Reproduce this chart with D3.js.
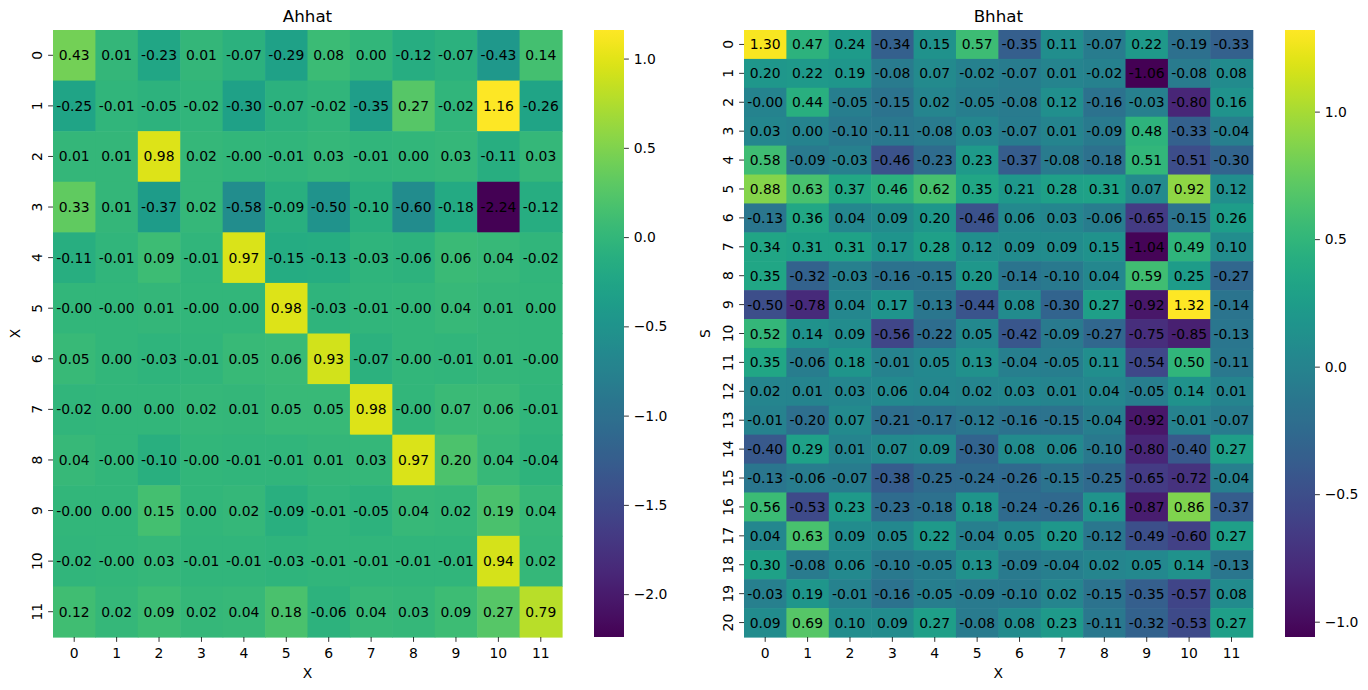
<!DOCTYPE html>
<html>
<head>
<meta charset="utf-8">
<script src="https://cdn.jsdelivr.net/npm/d3@7"></script>
<style>
  body { margin: 0; background: #fff; }
  svg { font-family: "DejaVu Sans", sans-serif; }
</style>
</head>
<body>
<svg id="chart" width="1368" height="690"></svg>
<script>
// ---- Data ----
const ahhatRows = ["0","1","2","3","4","5","6","7","8","9","10","11"];
const ahhatCols = ["0","1","2","3","4","5","6","7","8","9","10","11"];
const ahhatValues = [
  [0.43, 0.01, -0.23, 0.01, -0.07, -0.29, 0.08, 0.00, -0.12, -0.07, -0.43, 0.14],
  [-0.25, -0.01, -0.05, -0.02, -0.30, -0.07, -0.02, -0.35, 0.27, -0.02, 1.16, -0.26],
  [0.01, 0.01, 0.98, 0.02, -0.00, -0.01, 0.03, -0.01, 0.00, 0.03, -0.11, 0.03],
  [0.33, 0.01, -0.37, 0.02, -0.58, -0.09, -0.50, -0.10, -0.60, -0.18, -2.24, -0.12],
  [-0.11, -0.01, 0.09, -0.01, 0.97, -0.15, -0.13, -0.03, -0.06, 0.06, 0.04, -0.02],
  [-0.00, -0.00, 0.01, -0.00, 0.00, 0.98, -0.03, -0.01, -0.00, 0.04, 0.01, 0.00],
  [0.05, 0.00, -0.03, -0.01, 0.05, 0.06, 0.93, -0.07, -0.00, -0.01, 0.01, -0.00],
  [-0.02, 0.00, 0.00, 0.02, 0.01, 0.05, 0.05, 0.98, -0.00, 0.07, 0.06, -0.01],
  [0.04, -0.00, -0.10, -0.00, -0.01, -0.01, 0.01, 0.03, 0.97, 0.20, 0.04, -0.04],
  [-0.00, 0.00, 0.15, 0.00, 0.02, -0.09, -0.01, -0.05, 0.04, 0.02, 0.19, 0.04],
  [-0.02, -0.00, 0.03, -0.01, -0.01, -0.03, -0.01, -0.01, -0.01, -0.01, 0.94, 0.02],
  [0.12, 0.02, 0.09, 0.02, 0.04, 0.18, -0.06, 0.04, 0.03, 0.09, 0.27, 0.79]
];
// text labels as printed (keeps "-0.00")
const ahhatLabels = [
  ["0.43","0.01","-0.23","0.01","-0.07","-0.29","0.08","0.00","-0.12","-0.07","-0.43","0.14"],
  ["-0.25","-0.01","-0.05","-0.02","-0.30","-0.07","-0.02","-0.35","0.27","-0.02","1.16","-0.26"],
  ["0.01","0.01","0.98","0.02","-0.00","-0.01","0.03","-0.01","0.00","0.03","-0.11","0.03"],
  ["0.33","0.01","-0.37","0.02","-0.58","-0.09","-0.50","-0.10","-0.60","-0.18","-2.24","-0.12"],
  ["-0.11","-0.01","0.09","-0.01","0.97","-0.15","-0.13","-0.03","-0.06","0.06","0.04","-0.02"],
  ["-0.00","-0.00","0.01","-0.00","0.00","0.98","-0.03","-0.01","-0.00","0.04","0.01","0.00"],
  ["0.05","0.00","-0.03","-0.01","0.05","0.06","0.93","-0.07","-0.00","-0.01","0.01","-0.00"],
  ["-0.02","0.00","0.00","0.02","0.01","0.05","0.05","0.98","-0.00","0.07","0.06","-0.01"],
  ["0.04","-0.00","-0.10","-0.00","-0.01","-0.01","0.01","0.03","0.97","0.20","0.04","-0.04"],
  ["-0.00","0.00","0.15","0.00","0.02","-0.09","-0.01","-0.05","0.04","0.02","0.19","0.04"],
  ["-0.02","-0.00","0.03","-0.01","-0.01","-0.03","-0.01","-0.01","-0.01","-0.01","0.94","0.02"],
  ["0.12","0.02","0.09","0.02","0.04","0.18","-0.06","0.04","0.03","0.09","0.27","0.79"]
];
const ahhatTicks = [1.0, 0.5, 0.0, -0.5, -1.0, -1.5, -2.0];

const bhhatRows = ["0","1","2","3","4","5","6","7","8","9","10","11","12","13","14","15","16","17","18","19","20"];
const bhhatCols = ["0","1","2","3","4","5","6","7","8","9","10","11"];
const bhhatLabels = [
  ["1.30","0.47","0.24","-0.34","0.15","0.57","-0.35","0.11","-0.07","0.22","-0.19","-0.33"],
  ["0.20","0.22","0.19","-0.08","0.07","-0.02","-0.07","0.01","-0.02","-1.06","-0.08","0.08"],
  ["-0.00","0.44","-0.05","-0.15","0.02","-0.05","-0.08","0.12","-0.16","-0.03","-0.80","0.16"],
  ["0.03","0.00","-0.10","-0.11","-0.08","0.03","-0.07","0.01","-0.09","0.48","-0.33","-0.04"],
  ["0.58","-0.09","-0.03","-0.46","-0.23","0.23","-0.37","-0.08","-0.18","0.51","-0.51","-0.30"],
  ["0.88","0.63","0.37","0.46","0.62","0.35","0.21","0.28","0.31","0.07","0.92","0.12"],
  ["-0.13","0.36","0.04","0.09","0.20","-0.46","0.06","0.03","-0.06","-0.65","-0.15","0.26"],
  ["0.34","0.31","0.31","0.17","0.28","0.12","0.09","0.09","0.15","-1.04","0.49","0.10"],
  ["0.35","-0.32","-0.03","-0.16","-0.15","0.20","-0.14","-0.10","0.04","0.59","0.25","-0.27"],
  ["-0.50","-0.78","0.04","0.17","-0.13","-0.44","0.08","-0.30","0.27","-0.92","1.32","-0.14"],
  ["0.52","0.14","0.09","-0.56","-0.22","0.05","-0.42","-0.09","-0.27","-0.75","-0.85","-0.13"],
  ["0.35","-0.06","0.18","-0.01","0.05","0.13","-0.04","-0.05","0.11","-0.54","0.50","-0.11"],
  ["0.02","0.01","0.03","0.06","0.04","0.02","0.03","0.01","0.04","-0.05","0.14","0.01"],
  ["-0.01","-0.20","0.07","-0.21","-0.17","-0.12","-0.16","-0.15","-0.04","-0.92","-0.01","-0.07"],
  ["-0.40","0.29","0.01","0.07","0.09","-0.30","0.08","0.06","-0.10","-0.80","-0.40","0.27"],
  ["-0.13","-0.06","-0.07","-0.38","-0.25","-0.24","-0.26","-0.15","-0.25","-0.65","-0.72","-0.04"],
  ["0.56","-0.53","0.23","-0.23","-0.18","0.18","-0.24","-0.26","0.16","-0.87","0.86","-0.37"],
  ["0.04","0.63","0.09","0.05","0.22","-0.04","0.05","0.20","-0.12","-0.49","-0.60","0.27"],
  ["0.30","-0.08","0.06","-0.10","-0.05","0.13","-0.09","-0.04","0.02","0.05","0.14","-0.13"],
  ["-0.03","0.19","-0.01","-0.16","-0.05","-0.09","-0.10","0.02","-0.15","-0.35","-0.57","0.08"],
  ["0.09","0.69","0.10","0.09","0.27","-0.08","0.08","0.23","-0.11","-0.32","-0.53","0.27"]
];
const bhhatTicks = [1.0, 0.5, 0.0, -0.5, -1.0];

// ---- Drawing ----
const svg = d3.select("#chart");
const FS = 13.9;      // 10pt
const TFS = 16.7;     // 12pt
const TICK = 4.86;

function heatmap(opts) {
  const { labels, rows, cols, left, right, top, bottom, cbLeft, cbWidth, title, xLabel, yLabel, yLabelX, ticks } = opts;
  const values = labels.map(r => r.map(Number));
  const flat = values.flat();
  const vmin = d3.min(flat), vmax = d3.max(flat);
  const color = d3.scaleSequential(d3.interpolateViridis).domain([vmin, vmax]);

  const x = d3.scaleBand().domain(cols).range([left, right]);
  const y = d3.scaleBand().domain(rows).range([top, bottom]);
  const g = svg.append("g");

  const cells = [];
  rows.forEach((r, i) => cols.forEach((c, j) => cells.push({ r, c, v: values[i][j], t: labels[i][j] })));

  g.append("g").selectAll("rect").data(cells).join("rect")
    .attr("x", d => x(d.c)).attr("y", d => y(d.r))
    .attr("width", x.bandwidth() + 0.6).attr("height", y.bandwidth() + 0.6)
    .attr("fill", d => color(d.v));

  g.append("g").selectAll("text").data(cells).join("text")
    .attr("x", d => x(d.c) + x.bandwidth() / 2)
    .attr("y", d => y(d.r) + y.bandwidth() / 2)
    .attr("dy", "0.36em")
    .attr("text-anchor", "middle")
    .attr("font-size", FS)
    .attr("fill", "#000")
    .text(d => d.t);

  // x axis
  const xa = g.append("g").attr("transform", `translate(0,${bottom})`)
    .call(d3.axisBottom(x).tickSize(TICK).tickPadding(TICK));
  xa.select(".domain").remove();
  xa.selectAll("text").attr("font-size", FS).attr("font-family", "DejaVu Sans").attr("fill", "#000").attr("dy", "0.79em");
  xa.selectAll("line").attr("stroke", "#000").attr("stroke-width", 0.8);

  // y axis
  const ya = g.append("g").attr("transform", `translate(${left},0)`)
    .call(d3.axisLeft(y).tickSize(TICK));
  ya.select(".domain").remove();
  ya.selectAll("line").attr("stroke", "#000").attr("stroke-width", 0.8);
  ya.selectAll("text")
    .attr("x", null).attr("dy", null)
    .attr("text-anchor", "middle")
    .attr("transform", "translate(-11,0) rotate(-90)")
    .attr("font-size", FS).attr("font-family", "DejaVu Sans").attr("fill", "#000");

  // title and labels
  g.append("text").attr("x", (left + right) / 2).attr("y", 22)
    .attr("text-anchor", "middle").attr("font-size", TFS).text(title);
  g.append("text").attr("x", (left + right) / 2).attr("y", 678)
    .attr("text-anchor", "middle").attr("font-size", FS).text(xLabel);
  g.append("text").attr("transform", `translate(${yLabelX},${(top + bottom) / 2}) rotate(-90)`)
    .attr("text-anchor", "middle").attr("font-size", FS).text(yLabel);

  // colorbar
  const gid = "grad-" + title;
  const grad = svg.append("defs").append("linearGradient").attr("id", gid)
    .attr("x1", 0).attr("y1", 1).attr("x2", 0).attr("y2", 0);
  d3.range(0, 1.0001, 1 / 64).forEach(t => {
    grad.append("stop").attr("offset", t).attr("stop-color", d3.interpolateViridis(t));
  });
  g.append("rect").attr("x", cbLeft).attr("y", top).attr("width", cbWidth).attr("height", bottom - top)
    .attr("fill", `url(#${gid})`);
  const cy = d3.scaleLinear().domain([vmin, vmax]).range([bottom, top]);
  const ca = g.append("g").attr("transform", `translate(${cbLeft + cbWidth},0)`)
    .call(d3.axisRight(cy).tickValues(ticks).tickFormat(d3.format(".1f")).tickSize(TICK).tickPadding(TICK));
  ca.select(".domain").remove();
  ca.selectAll("line").attr("stroke", "#000").attr("stroke-width", 0.8);
  ca.selectAll("text").attr("font-size", FS).attr("font-family", "DejaVu Sans").attr("fill", "#000");
}

heatmap({
  labels: ahhatLabels, rows: ahhatRows, cols: ahhatCols,
  left: 53, right: 562, top: 30, bottom: 637,
  cbLeft: 594, cbWidth: 30, title: "Ahhat", xLabel: "X", yLabel: "X", yLabelX: 20, ticks: ahhatTicks
});
heatmap({
  labels: bhhatLabels, rows: bhhatRows, cols: bhhatCols,
  left: 744, right: 1252.7, top: 30, bottom: 637,
  cbLeft: 1285, cbWidth: 30, title: "Bhhat", xLabel: "X", yLabel: "S", yLabelX: 710, ticks: bhhatTicks
});
</script>
</body>
</html>
